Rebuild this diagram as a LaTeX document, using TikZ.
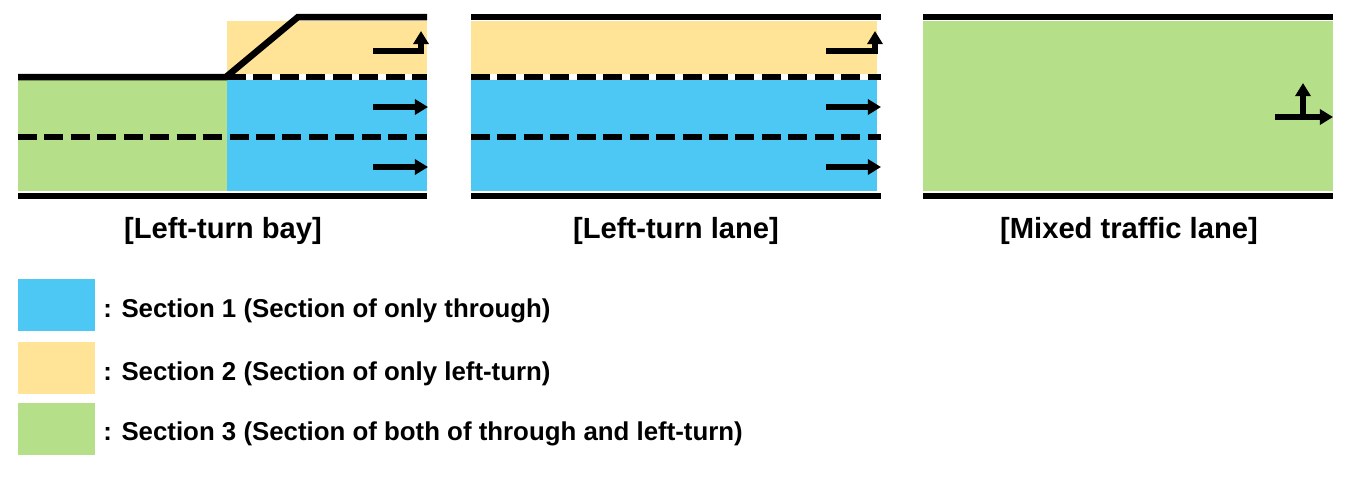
\documentclass[tikz,border=0pt]{standalone}
\usepackage{fontspec}
\setmainfont{Liberation Sans}
\usetikzlibrary{arrows.meta}
\definecolor{secblue}{HTML}{4DC8F4}
\definecolor{secyellow}{HTML}{FFE396}
\definecolor{secgreen}{HTML}{B5DF88}

\begin{document}
\begin{tikzpicture}[x=0.02cm,y=-0.02cm,
  road/.style={line width=3.7pt},
  lanemark/.style={line width=3.7pt,dash pattern=on 10.8pt off 4.25pt},
  gapline/.style={line width=3.7pt,white},
  move/.style={line width=3.7pt,-{Triangle[length=7.5pt,width=8.6pt]}},
  caption/.style={font=\fontsize{16.6}{19}\selectfont\bfseries,anchor=base,inner sep=0pt},
  keybox/.style={rectangle,minimum width=1.54cm,minimum height=1.04cm,inner sep=0pt},
  keytext/.style={font=\fontsize{14.7}{17}\selectfont\bfseries,anchor=base west,inner sep=0pt}
]
\useasboundingbox (0,0) rectangle (1349,477);

% ---- Left-turn bay ----------------------------------------
\fill[secgreen]  (18,77)  rectangle (227,191);
\fill[secblue]   (227,77) rectangle (427,191);
\fill[secyellow] (227,21) rectangle (427,77);
\draw[road] (18,77) -- (226,77) -- (298,17) -- (427,17);
\draw[gapline]  (227,77) -- (427,77);
\draw[lanemark] (227,77) -- (427,77);
\draw[lanemark] (18,137) -- (427,137);
\draw[road] (18,196) -- (427,196);
\draw[move] (373,51) -- (421,51) -- (421,31);
\draw[move] (373,107) -- (428,107);
\draw[move] (373,167) -- (428,167);
\node[caption] (bay) at (223,238) {[Left-turn bay]};

% ---- Left-turn lane ---------------------------------------
\fill[secyellow] (471,21) rectangle (877,77);
\fill[secblue]   (471,77) rectangle (877,191);
\draw[road] (471,17) -- (881,17);
\draw[gapline]  (471,77) -- (881,77);
\draw[lanemark] (471,77) -- (881,77);
\draw[lanemark] (471,137) -- (881,137);
\draw[road] (471,196) -- (881,196);
\draw[move] (826,51) -- (875,51) -- (875,31);
\draw[move] (826,107) -- (881,107);
\draw[move] (826,167) -- (881,167);
\node[caption] (lane) at (676,238) {[Left-turn lane]};

% ---- Mixed traffic lane -----------------------------------
\fill[secgreen] (923,21) rectangle (1333,191);
\draw[road] (923,17) -- (1333,17);
\draw[road] (923,196) -- (1333,196);
\draw[move] (1275,117) -- (1333,117);
\draw[move] (1303,117) -- (1303,83);
\node[caption] (mixed) at (1129,238) {[Mixed traffic lane]};

% ---- Legend -----------------------------------------------
\node[keybox,fill=secblue]   (key1) at (56.5,305) {};
\node[keybox,fill=secyellow] (key2) at (56.5,368) {};
\node[keybox,fill=secgreen]  (key3) at (56.5,428.5) {};
\node[keytext] (txt1) at (103,317) {: Section 1 (Section of only through)};
\node[keytext] (txt2) at (103,380) {: Section 2 (Section of only left-turn)};
\node[keytext] (txt3) at (103,440) {: Section 3 (Section of both of through and left-turn)};

\end{tikzpicture}
\end{document}
